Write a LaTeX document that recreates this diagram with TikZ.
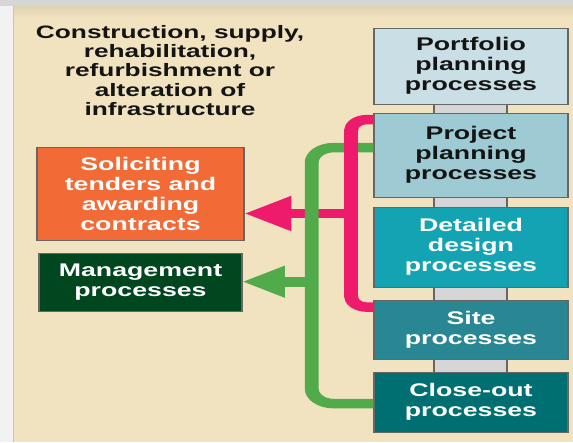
\documentclass[tikz,border=0pt]{standalone}
\usepackage{fontspec}
\setmainfont{Liberation Sans}
\usetikzlibrary{arrows.meta,calc}
\definecolor{outerbg}{HTML}{F2F2F2}
\definecolor{topgray}{HTML}{D6D6D6}
\definecolor{cream}{HTML}{F1E3BF}
\definecolor{tanstrip}{HTML}{DED2B0}
\definecolor{edgegray}{HTML}{C4C4C4}
\definecolor{bordergray}{HTML}{666666}
\definecolor{portc}{HTML}{C9DFE5}
\definecolor{projc}{HTML}{9DCAD3}
\definecolor{detc}{HTML}{14A3B3}
\definecolor{sitec}{HTML}{288792}
\definecolor{closec}{HTML}{006F72}
\definecolor{orangec}{HTML}{F26A35}
\definecolor{mgmtc}{HTML}{00461F}
\definecolor{pinkc}{HTML}{EE1B6C}
\definecolor{greenc}{HTML}{52AB4B}
\definecolor{spinec}{HTML}{D6D6D6}
\definecolor{inkc}{HTML}{141414}
\tikzset{
  boxtext/.style={font=\bfseries\fontsize{18.3}{20}\selectfont, align=center},
  titletext/.style={font=\bfseries\fontsize{18}{19.3}\selectfont, align=center},
  procbox/.style={boxtext, draw=bordergray, line width=0.8pt, inner sep=0pt, minimum width=132.88pt},
  pinkline/.style={draw=pinkc, line width=9.5pt},
  greenline/.style={draw=greenc, line width=9.5pt},
}
\begin{document}
\begin{tikzpicture}[x=1pt,y=-1pt]
\useasboundingbox (0,0) rectangle (573,442);
\fill[outerbg] (0,0) rectangle (573,442);
\fill[topgray] (0,0) rectangle (573,6);
\fill[cream] (13,6) rectangle (573,442);
\shade[top color=tanstrip, bottom color=cream] (13,6) rectangle (573,18);
\draw[edgegray, line width=1pt] (13.5,6) -- (13.5,442);
\begin{scope}[x=0.684932pt, transform canvas={xscale=1.46}]
  % title
  \node[titletext, text=inkc] (title) at (170,70.5)
    {Construction, supply,\\rehabilitation,\\refurbishment or\\alteration of\\infrastructure};
  % spine behind the process boxes
  \draw[fill=spinec, draw=bordergray, line width=0.8pt] (434,100) rectangle (507,376);
  % process boxes
  \node[procbox, fill=portc, text=inkc, minimum height=76pt] (port) at (471,66)
    {Portfolio\\planning\\processes};
  \node[procbox, fill=projc, text=inkc, minimum height=84pt] (proj) at (471,155)
    {Project\\planning\\processes};
  \node[procbox, fill=detc, text=white, minimum height=80pt] (det) at (471,247)
    {Detailed\\design\\processes};
  \node[procbox, fill=sitec, text=white, minimum height=59pt] (site) at (471,329.5)
    {Site\\processes};
  \node[procbox, fill=closec, text=white, minimum height=60pt] (close) at (471,402)
    {Close-out\\processes};
  % left boxes
  \node[procbox, fill=orangec, text=white, minimum width=141.78pt, minimum height=93pt] (orange) at (140.5,193.5)
    {Soliciting\\tenders and\\awarding\\contracts};
  \node[procbox, fill=mgmtc, text=white, minimum width=139.04pt, minimum height=58pt] (mgmt) at (140.5,282)
    {Management\\processes};
  % helper coordinates
  \coordinate (pinkx) at (351,0);
  \coordinate (greenx) at (311.7,0);
  \coordinate (pt) at ([yshift=-7pt]proj.north west);
  \coordinate (pbot) at ([yshift=-7.5pt]site.north west);
  \coordinate (gt) at ([yshift=-35pt]proj.north west);
  \coordinate (gb) at ([yshift=-32pt]close.north west);
  \coordinate (pb) at (351,213.5);
  \coordinate (gm) at (311.7,281.7);
  % pink branch arrow (under green)
  \draw[pinkline, line width=9pt, -{Triangle[length=32pt,width=33pt]}] (pb) -- (pb -| orange.east);
  % green bracket and arrow
  \draw[greenline, rounded corners=15pt] (gt) -- (gt -| greenx) -- (gb -| greenx) -- (gb);
  \draw[greenline, line width=10pt, -{Triangle[length=29pt,width=30pt]}] (gm) -- (gm -| mgmt.east);
  % pink bracket (over green)
  \draw[pinkline, rounded corners=11pt] (pt) -- (pt -| pinkx) -- (pbot -| pinkx) -- (pbot);
\end{scope}
\end{tikzpicture}
\end{document}
